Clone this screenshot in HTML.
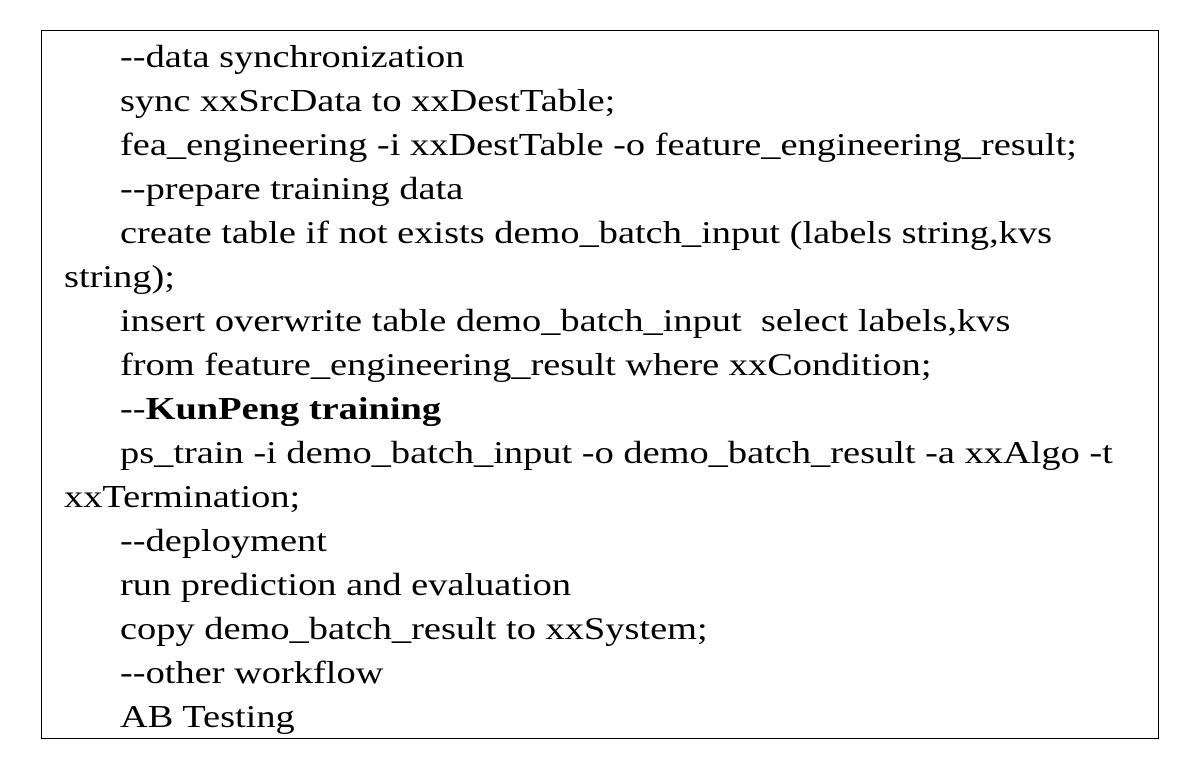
<!DOCTYPE html>
<html>
<head>
<meta charset="utf-8">
<style>
  html, body { margin:0; padding:0; background:#fff; }
  body { width:1196px; height:774px; position:relative; overflow:hidden; }
  .box { position:absolute; left:41px; top:30px; width:1116px; height:707px; border:1px solid #000; }
  .code { position:absolute; left:0; top:3px; width:1116px;
    font-family:"Liberation Serif", serif; font-size:32px; line-height:44px; color:#000; }
  .l { white-space:pre; padding-left:78px; height:44px; }
  .w { padding-left:22px; }
  .l span { display:inline-block; transform:scaleX(1.2); transform-origin:0 50%; }
</style>
</head>
<body>
<div class="box">
  <div class="code">
    <div class="l"><span>--data synchronization</span></div>
    <div class="l"><span>sync xxSrcData to xxDestTable;</span></div>
    <div class="l"><span>fea_engineering -i xxDestTable -o feature_engineering_result;</span></div>
    <div class="l"><span>--prepare training data</span></div>
    <div class="l"><span>create table if not exists demo_batch_input (labels string,kvs</span></div>
    <div class="l w"><span>string);</span></div>
    <div class="l"><span>insert overwrite table demo_batch_input  select labels,kvs</span></div>
    <div class="l"><span>from feature_engineering_result where xxCondition;</span></div>
    <div class="l"><span>--<b>KunPeng training</b></span></div>
    <div class="l"><span>ps_train -i demo_batch_input -o demo_batch_result -a xxAlgo -t</span></div>
    <div class="l w"><span>xxTermination;</span></div>
    <div class="l"><span>--deployment</span></div>
    <div class="l"><span>run prediction and evaluation</span></div>
    <div class="l"><span>copy demo_batch_result to xxSystem;</span></div>
    <div class="l"><span>--other workflow</span></div>
    <div class="l"><span>AB Testing</span></div>
  </div>
</div>
</body>
</html>
